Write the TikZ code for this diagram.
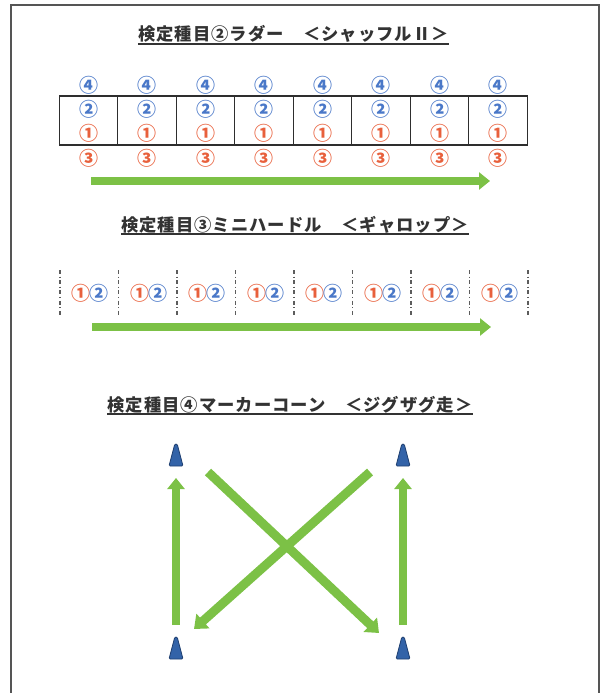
\documentclass[tikz,border=0pt]{standalone}
\usepackage{fontspec}
\newfontfamily\jp[LetterSpace=6]{Noto Sans CJK JP}
\newfontfamily\jpn{Noto Sans CJK JP}
\usetikzlibrary{arrows.meta}
\definecolor{ttl}{HTML}{333333}
\definecolor{grn}{HTML}{7CC146}
\definecolor{bl}{HTML}{4A78C8}
\definecolor{org}{HTML}{E8603C}
\definecolor{cone}{HTML}{3363A8}
\definecolor{conedk}{HTML}{1F3F70}
\definecolor{frm}{HTML}{555555}
\tikzset{
  title/.style={anchor=base, inner sep=0pt, text=ttl, font=\jp\bfseries\fontsize{17.3}{19}\selectfont},
  uline/.style={draw=ttl, line width=1.1pt},
  cell/.style={draw=ttl!90!black, line width=1.4pt, minimum width=58.5pt, minimum height=49pt, inner sep=0pt},
  bnum/.style={inner sep=0pt, text=bl, font=\jpn\bfseries\fontsize{19}{19}\selectfont},
  onum/.style={inner sep=0pt, text=org, font=\jpn\bfseries\fontsize{19}{19}\selectfont},
  garrow/.style={draw=grn, line width=8pt, -{Triangle[width=17pt,length=11pt]}},
  darrow/.style={garrow, line width=9pt, -{Triangle[width=19pt,length=12pt]}},
  hurdle/.style={draw=ttl!80, line width=1.3pt, dash pattern=on 4pt off 2.5pt on 1.2pt off 2.5pt},
}
\begin{document}
\begin{tikzpicture}[x=1pt,y=-1pt]
\useasboundingbox (0,0) rectangle (602,693);
% frame
\draw[frm, line width=1.3pt] (11,693) -- (11,5) -- (599,5) -- (599,693);

% ---------- Title 1 ----------
\node[title] (t1) at (293.5,41) {検定種目②ラダー　＜シャッフルⅡ＞};
\draw[uline] ([yshift=-3pt]t1.base west) -- ([yshift=-3pt]t1.base east);

% ladder
\foreach \i in {0,...,7} {
  \node[cell] (c\i) at ({88.5+58.5*\i},120.5) {};
  \node[bnum] (n4\i) at ({88.5+58.5*\i},85) {④};
  \node[bnum] (n2\i) at ({88.5+58.5*\i},109.5) {②};
  \node[onum] (n1\i) at ({88.5+58.5*\i},133) {①};
  \node[onum] (n3\i) at ({88.5+58.5*\i},158) {③};
}
\coordinate (a1s) at (91,181);
\coordinate (a1e) at (490,181);
\draw[garrow] (a1s) -- (a1e);

% ---------- Title 2 ----------
\node[title] (t2) at (295,231) {検定種目③ミニハードル　＜ギャロップ＞};
\draw[uline] ([yshift=-3pt]t2.base west) -- ([yshift=-3pt]t2.base east);

\foreach \i in {0,...,8} {
  \coordinate (ht\i) at ({60+58.5*\i},270);
  \coordinate (hb\i) at ({60+58.5*\i},316);
  \draw[hurdle] (ht\i) -- (hb\i);
}
\foreach \i in {0,...,7} {
  \node[onum] (p1\i) at ({81+58.5*\i},293) {①};
  \node[bnum] (p2\i) at ({99+58.5*\i},293) {②};
}
\coordinate (a2s) at (92,327);
\coordinate (a2e) at (491,327);
\draw[garrow] (a2s) -- (a2e);

% ---------- Title 3 ----------
\node[title] (t3) at (290,411) {検定種目④マーカーコーン　＜ジグザグ走＞};
\draw[uline] ([yshift=-3pt]t3.base west) -- ([yshift=-3pt]t3.base east);

% cones
\coordinate (tl) at (176,455);
\coordinate (tr) at (403,455);
\coordinate (bl) at (176,648);
\coordinate (br) at (403,648);
\foreach \c in {tl,tr,bl,br} {
  \filldraw[fill=cone, draw=conedk, line width=0.8pt, rounded corners=1.2pt]
    ([shift={(-7,11)}]\c) -- ([shift={(-1.2,-11)}]\c) -- ([shift={(1.2,-11)}]\c) -- ([shift={(7,11)}]\c) -- cycle;
}
\draw[garrow] ([shift={(0,-23)}]bl) -- ([shift={(0,23)}]tl);
\draw[garrow] ([shift={(0,-23)}]br) -- ([shift={(0,23)}]tr);
\draw[darrow] ([shift={(32,17)}]tl) -- ([shift={(-24,-15)}]br);
\draw[darrow] ([shift={(-33,17)}]tr) -- ([shift={(18,-19)}]bl);
\end{tikzpicture}
\end{document}
